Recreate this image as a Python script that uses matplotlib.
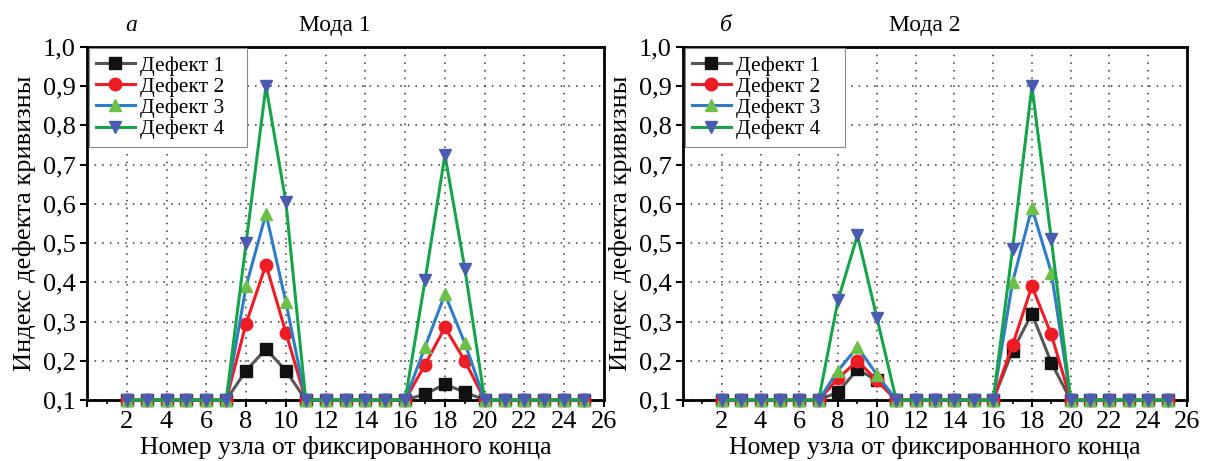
import numpy as np
import matplotlib.pyplot as plt
from matplotlib.ticker import MultipleLocator, FuncFormatter

plt.rcParams['font.family'] = ['Liberation Serif', 'DejaVu Serif']

nodes = np.arange(2, 26)

# curvature-defect index at the non-baseline nodes, everything else sits at 0.1
mode1_peaks = {
    'Дефект 1': {8: 0.175, 9: 0.23, 10: 0.175, 17: 0.115, 18: 0.14, 19: 0.12},
    'Дефект 2': {8: 0.295, 9: 0.445, 10: 0.272, 17: 0.19, 18: 0.285, 19: 0.20},
    'Дефект 3': {8: 0.39, 9: 0.575, 10: 0.35, 17: 0.235, 18: 0.37, 19: 0.245},
    'Дефект 4': {8: 0.50, 9: 0.90, 10: 0.605, 17: 0.405, 18: 0.725, 19: 0.435},
}
mode2_peaks = {
    'Дефект 1': {8: 0.12, 9: 0.178, 10: 0.15, 17: 0.225, 18: 0.32, 19: 0.195},
    'Дефект 2': {8: 0.155, 9: 0.20, 10: 0.15, 17: 0.24, 18: 0.39, 19: 0.267},
    'Дефект 3': {8: 0.175, 9: 0.235, 10: 0.165, 17: 0.40, 18: 0.59, 19: 0.425},
    'Дефект 4': {8: 0.355, 9: 0.52, 10: 0.31, 17: 0.485, 18: 0.90, 19: 0.51},
}
baseline = 0.1

# line colour, marker, marker colour
styles = {
    'Дефект 1': ('#555555', 's', '#111111'),
    'Дефект 2': ('#ee1c25', 'o', '#ee1c25'),
    'Дефект 3': ('#2f7dc4', '^', '#6cc04a'),
    'Дефект 4': ('#17a34a', 'v', '#4a5bb0'),
}


def series(peaks):
    return np.array([peaks.get(n, baseline) for n in nodes])


def draw(ax, data, letter, title, leg_w):
    for name, peaks in data.items():
        lc, mk, mc = styles[name]
        ax.plot(nodes, series(peaks), color=lc, lw=2.2, marker=mk, ms=9,
                mfc=mc, mec=mc, label=name, clip_on=False, zorder=3)
    ax.set_xlim(0, 26)
    ax.set_ylim(0.1, 1.0)
    ax.xaxis.set_major_locator(MultipleLocator(2))
    ax.xaxis.set_minor_locator(MultipleLocator(1))
    ax.yaxis.set_major_locator(MultipleLocator(0.1))
    ax.xaxis.set_major_formatter(FuncFormatter(
        lambda v, p: '' if v == 0 else f'{v:.0f}'))
    ax.yaxis.set_major_formatter(FuncFormatter(
        lambda v, p: f'{v:.1f}'.replace('.', ',')))
    ax.tick_params(direction='out', length=5, width=1.5, labelsize=19, pad=3)
    ax.tick_params(which='minor', direction='out', length=3, width=1.2)
    ax.grid(True, ls=(0, (1, 4)), color='#333333', lw=1.1)
    for s in ax.spines.values():
        s.set_linewidth(2.0)
    ax.set_xlabel('Номер узла от фиксированного конца', fontsize=18.5,
                  labelpad=2)
    ax.set_ylabel('Индекс дефекта кривизны', fontsize=19, labelpad=5)
    ax.text(0.085, 1.03, letter, transform=ax.transAxes, fontsize=17,
            style='italic', ha='center', va='bottom')
    ax.text(0.48, 1.03, title, transform=ax.transAxes, fontsize=17,
            ha='center', va='bottom')
    leg = ax.legend(loc='upper left', bbox_to_anchor=(0.003, 0.997, leg_w, 0),
                    mode='expand', fontsize=15.5, handlelength=1.8,
                    borderaxespad=0, borderpad=0.35, labelspacing=0.05,
                    handletextpad=0.25, fancybox=False, framealpha=1)
    leg.get_frame().set_edgecolor('#888888')
    leg.get_frame().set_linewidth(0.8)
    leg.set_zorder(5)


fig = plt.figure(figsize=(12.17, 4.61), dpi=100)
ax1 = fig.add_axes([87 / 1217, 61 / 461, 517 / 1217, 353 / 461])
ax2 = fig.add_axes([683 / 1217, 61 / 461, 504 / 1217, 353 / 461])

draw(ax1, mode1_peaks, 'а', 'Мода 1', 158 / 517)
draw(ax2, mode2_peaks, 'б', 'Мода 2', 160 / 504)

fig.savefig('out.png', dpi=100)
